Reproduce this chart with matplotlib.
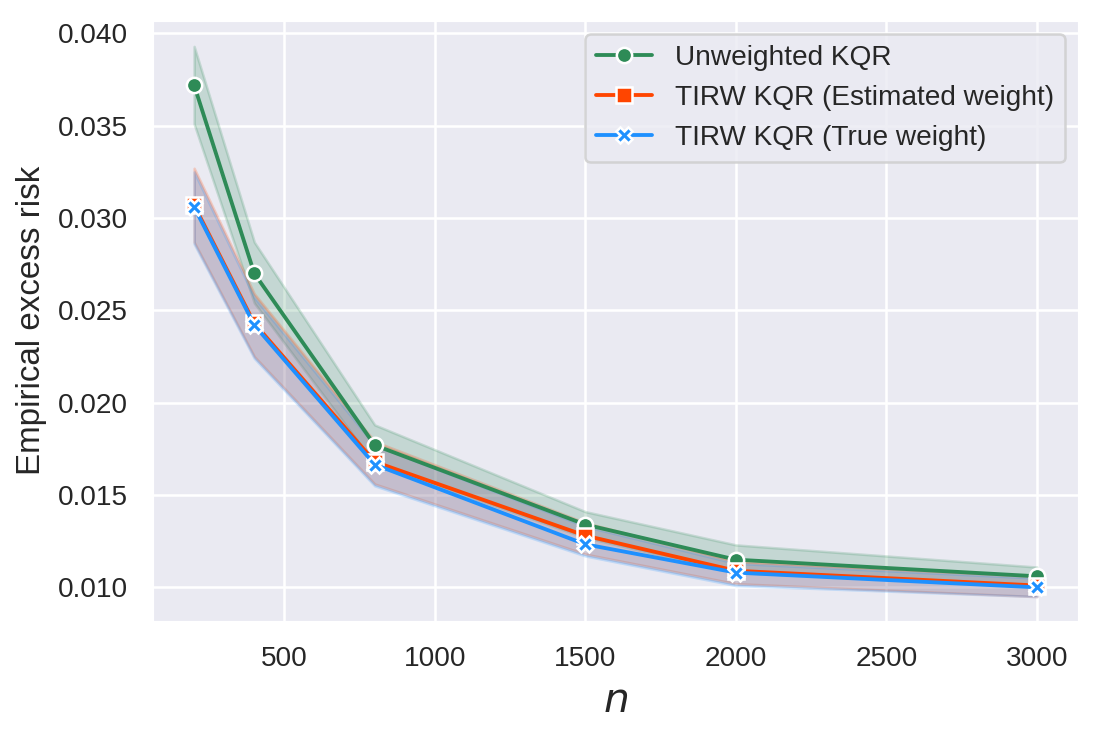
import matplotlib
matplotlib.use('Agg')
import matplotlib.pyplot as plt
import seaborn as sns

sns.set_theme(style='darkgrid')
plt.rcParams['font.family'] = ['Liberation Sans', 'DejaVu Sans']

# sample sizes
n = [200, 400, 800, 1500, 2000, 3000]

# Unweighted KQR
unw = [0.0372, 0.0270, 0.0177, 0.0134, 0.0115, 0.0106]
unw_lo = [0.0351, 0.0254, 0.0167, 0.0127, 0.0108, 0.0101]
unw_hi = [0.0393, 0.0287, 0.0188, 0.0141, 0.0123, 0.0111]

# TIRW KQR (Estimated weight)
est = [0.0307, 0.0243, 0.0168, 0.0128, 0.0109, 0.0101]
est_lo = [0.0287, 0.0225, 0.0156, 0.0118, 0.0102, 0.0095]
est_hi = [0.0327, 0.0259, 0.0179, 0.0135, 0.0114, 0.0106]

# TIRW KQR (True weight)
tru = [0.0306, 0.0242, 0.01665, 0.01233, 0.0108, 0.0100]
tru_lo = [0.0286, 0.0224, 0.0155, 0.0117, 0.0101, 0.0095]
tru_hi = [0.0325, 0.0257, 0.0177, 0.0133, 0.0113, 0.0105]

fig = plt.figure(figsize=(1101 / 183.5, 738 / 183.5), dpi=183.5)
ax = fig.add_axes([152 / 1101, 1 - 621.7 / 738, (1079 - 152) / 1101, (621.7 - 20) / 738])

series = [
    ('Unweighted KQR', unw, unw_lo, unw_hi, 'seagreen', 'o', 6),
    ('TIRW KQR (Estimated weight)', est, est_lo, est_hi, 'orangered', 's', 6),
    ('TIRW KQR (True weight)', tru, tru_lo, tru_hi, 'dodgerblue', 'X', 6),
]
for label, y, lo, hi, col, mk, ms in series:
    ax.fill_between(n, lo, hi, color=col, alpha=0.2, linewidth=1)
for label, y, lo, hi, col, mk, ms in series:
    ax.plot(n, y, color=col, marker=mk, markersize=ms, markeredgecolor='white',
            markeredgewidth=1, linewidth=1.5, label=label)

ax.set_xlim(60, 3140)
ax.set_ylim(0.00814, 0.04073)
ax.set_xticks([500, 1000, 1500, 2000, 2500, 3000])
ax.set_yticks([0.010, 0.015, 0.020, 0.025, 0.030, 0.035, 0.040])
ax.set_yticklabels(['0.010', '0.015', '0.020', '0.025', '0.030', '0.035', '0.040'])
ax.tick_params(labelsize=11)
ax.set_xlabel('$n$', fontsize=16)
ax.set_ylabel('Empirical excess risk', fontsize=13)
ax.legend(loc='upper right', fontsize=11)

fig.savefig('out.png', dpi=183.5)
